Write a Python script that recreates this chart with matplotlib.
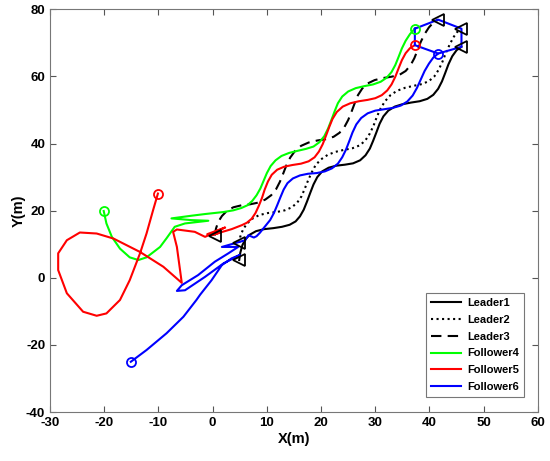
import matplotlib
matplotlib.use("Agg")
import matplotlib.pyplot as plt
from matplotlib.lines import Line2D

plt.rcParams['font.family'] = ['Liberation Sans', 'DejaVu Sans']
plt.rcParams['font.weight'] = 'bold'
plt.rcParams['axes.unicode_minus'] = False

# leader trajectories
leader1_x = [4.9, 5.1, 5.5, 6.1, 6.9, 8.0, 9.5, 11.2, 12.8, 14.2, 15.3, 16.1, 16.8, 17.4, 18.0,
             18.6, 19.3, 20.2, 21.4, 22.8, 24.4, 25.9, 27.2, 28.2, 29.0, 29.6, 30.2, 30.8, 31.5,
             32.4, 33.6, 35.0, 36.6, 38.2, 39.6, 40.7, 41.6, 42.3, 42.9, 43.5, 44.2, 45.0, 45.9]
leader1_y = [5.3, 7.5, 9.8, 11.6, 12.9, 13.9, 14.5, 14.8, 15.2, 15.8, 16.8, 18.3, 20.3, 22.7, 25.3,
             27.8, 30.0, 31.7, 32.8, 33.4, 33.7, 34.1, 35.0, 36.5, 38.5, 40.8, 43.3, 45.9, 48.1,
             49.8, 51.0, 51.7, 52.2, 52.6, 53.3, 54.5, 56.3, 58.5, 61.0, 63.6, 66.0, 67.8, 68.8]

leader2_x = [4.9, 5.1, 5.6, 6.3, 7.3, 8.6, 10.2, 11.8, 13.3, 14.6, 15.6, 16.4, 17.0, 17.6, 18.3,
             19.0, 20.0, 21.2, 22.6, 24.2, 25.8, 27.2, 28.2, 29.0, 29.7, 30.3, 31.0, 31.8, 32.8,
             34.0, 35.5, 37.1, 38.6, 39.9, 40.9, 41.7, 42.4, 43.0, 43.7, 44.4, 45.1, 45.9]
leader2_y = [10.4, 12.3, 14.4, 16.1, 17.6, 18.7, 19.3, 19.6, 20.1, 21.0, 22.4, 24.3, 26.6, 29.0, 31.5,
             33.6, 35.3, 36.6, 37.5, 38.1, 38.6, 39.5, 41.0, 43.0, 45.4, 48.0, 50.5, 52.6, 54.4,
             55.7, 56.6, 57.2, 57.7, 58.6, 60.0, 62.0, 64.4, 66.9, 69.4, 71.6, 73.2, 74.2]

leader3_x = [0.4, 0.6, 1.0, 1.7, 2.6, 3.8, 5.3, 6.9, 8.4, 9.7, 10.8, 11.7, 12.4, 13.0, 13.6,
             14.3, 15.2, 16.3, 17.7, 19.3, 20.9, 22.3, 23.4, 24.3, 25.0, 25.6, 26.2, 26.8, 27.6,
             28.6, 29.9, 31.4, 33.0, 34.5, 35.6, 36.5, 37.2, 37.8, 38.4, 39.1, 39.9, 40.7, 41.6]
leader3_y = [12.6, 14.6, 16.6, 18.4, 19.9, 21.0, 21.6, 21.9, 22.4, 23.3, 24.6, 26.4, 28.6, 31.0, 33.5,
             35.8, 37.8, 39.3, 40.3, 40.9, 41.3, 42.0, 43.2, 44.9, 47.0, 49.4, 52.0, 54.4, 56.4,
             57.9, 58.9, 59.5, 59.9, 60.5, 61.6, 63.3, 65.4, 67.8, 70.3, 72.6, 74.6, 76.0, 76.9]

# follower trajectories
follower4_x = [-20.1, -19.6, -18.6, -17.1, -15.3, -13.7, -12.2, -9.7, -8.5, -7.0, -5.1, -0.8, -4.0,
               -7.6, -3.9, -1.4, 2.0, 3.8, 5.3, 6.4, 7.3, 8.1, 8.8, 9.4, 10.0, 10.7, 11.6, 12.7,
               14.1, 15.6, 17.2, 18.6, 19.7, 20.6, 21.3, 21.9, 22.5, 23.1, 23.9, 25.0, 26.4, 28.0,
               29.6, 31.0, 32.1, 33.0, 33.7, 34.3, 34.9, 35.6, 36.4, 37.3]
follower4_y = [19.9, 16.2, 12.2, 8.7, 6.1, 5.3, 6.1, 9.2, 11.8, 15.2, 16.2, 17.0, 17.2,
               17.7, 18.5, 19.0, 19.6, 20.1, 20.8, 21.6, 22.9, 24.6, 26.6, 28.9, 31.2, 33.3, 35.0, 36.3,
               37.2, 37.8, 38.4, 39.1, 40.4, 42.2, 44.5, 47.0, 49.6, 52.0, 54.0, 55.5, 56.5, 57.1,
               57.6, 58.4, 59.6, 61.3, 63.4, 65.8, 68.3, 70.6, 72.6, 74.2]

follower5_x = [-10.1, -11.0, -12.2, -13.4, -15.3, -17.1, -19.6, -21.4, -23.9, -26.9, -28.5, -28.5,
               -26.9, -24.5, -21.4, -18.3, -13.4, -9.1, -5.7, -6.6, -7.3, -6.6, -3.3, -1.4, 2.3,
               -1.0, 1.5, -0.5, 3.5, 5.4, 6.3, 7.2, 7.9, 8.5, 9.1, 9.6, 10.2, 10.9, 11.9, 13.2,
               14.7, 16.3, 17.7, 18.8, 19.6, 20.3, 20.9, 21.5, 22.1, 22.9, 24.0, 25.4, 27.0, 28.6,
               30.0, 31.2, 32.2, 33.0, 33.7, 34.3, 34.9, 35.6, 36.4, 37.3]
follower5_y = [25.1, 20.1, 13.2, 7.3, -0.7, -6.6, -10.6, -11.3, -10.1, -4.6, 2.3, 7.3,
               11.2, 13.5, 13.2, 11.7, 7.7, 3.3, -1.5, 9.2, 13.7, 14.4, 13.7, 12.2, 15.0,
               13.0, 13.5, 12.6, 14.5, 15.7, 16.4, 17.6, 19.3, 21.4, 23.8, 26.3, 28.7, 30.7, 32.2, 33.1,
               33.6, 34.0, 34.7, 35.9, 37.6, 39.8, 42.3, 44.9, 47.3, 49.4, 51.0, 52.0, 52.6, 53.0,
               53.5, 54.4, 55.8, 57.6, 59.9, 62.4, 64.8, 66.9, 68.4, 69.3]

follower6_x = [-15.1, -12.2, -8.5, -5.4, -3.0, -2.3, -0.2, 1.7, 3.5, 5.0, 2.0, -1.4, -5.1, -6.6,
               -5.7, -2.7, 0.4, 2.9, 4.7, 1.7, 6.0, 6.6, 7.6, 8.1, 8.7, 9.6, 10.6, 11.3, 11.9,
               12.5, 13.1, 13.8, 14.8, 16.1, 17.6, 19.2, 20.7, 22.0, 23.1, 23.9, 24.6, 25.2, 25.8,
               26.5, 27.4, 28.6, 30.0, 31.6, 33.2, 34.7, 35.9, 36.9, 37.7, 38.4, 39.1, 39.9, 40.7, 41.6]
follower6_y = [-25.0, -21.5, -16.5, -11.6, -6.6, -5.0, -0.7, 3.8, 5.8, 6.8, 4.3, 0.3, -3.7, -3.9,
               -2.2, 0.8, 4.8, 7.3, 9.2, 9.2, 11.2, 12.7, 12.0, 12.4, 13.4, 15.2, 17.2, 19.3, 21.6,
               24.0, 26.3, 28.2, 29.6, 30.5, 31.0, 31.2, 31.7, 32.6, 34.0, 35.9, 38.2, 40.7, 43.3,
               45.7, 47.6, 49.0, 49.8, 50.2, 50.6, 51.3, 52.5, 54.3, 56.6, 59.1, 61.6, 63.8, 65.6, 66.8]

labels = ['Leader1', 'Leader2', 'Leader3', 'Follower4', 'Follower5', 'Follower6']

fig = plt.figure(figsize=(5.5, 4.61), dpi=100)
ax = fig.add_axes([0.091, 0.106, 0.887, 0.874])

lw = 1.5
dash = (0, (5, 3))
ax.plot(leader1_x, leader1_y, color='k', ls='-', lw=lw)
ax.plot(leader2_x, leader2_y, color='k', ls=':', lw=lw)
ax.plot(leader3_x, leader3_y, color='k', ls=dash, lw=lw)
ax.plot(follower4_x, follower4_y, color=(0, 1, 0), lw=lw)
ax.plot(follower5_x, follower5_y, color='r', lw=lw)
ax.plot(follower6_x, follower6_y, color='b', lw=lw)

# formation polygon linking the final positions
ends = [(follower4_x[-1], follower4_y[-1]), (leader3_x[-1], leader3_y[-1]),
        (leader2_x[-1], leader2_y[-1]), (leader1_x[-1], leader1_y[-1]),
        (follower6_x[-1], follower6_y[-1]), (follower5_x[-1], follower5_y[-1])]
ends.append(ends[0])
ax.plot([e[0] for e in ends], [e[1] for e in ends], color='b', lw=lw)

# start / end markers
for xs, ys in [(leader1_x, leader1_y), (leader2_x, leader2_y), (leader3_x, leader3_y)]:
    ax.plot([xs[0], xs[-1]], [ys[0], ys[-1]], ls='none', marker='<', ms=8,
            mfc='none', mec='k', mew=1.3)
for xs, ys, c in [(follower4_x, follower4_y, (0, 1, 0)), (follower5_x, follower5_y, 'r'),
                  (follower6_x, follower6_y, 'b')]:
    ax.plot([xs[0], xs[-1]], [ys[0], ys[-1]], ls='none', marker='o', ms=6.5,
            mfc='none', mec=c, mew=1.3)

ax.set_xlim(-30, 60)
ax.set_ylim(-40, 80)
ax.set_xticks(range(-30, 61, 10))
ax.set_yticks(range(-40, 81, 20))
ax.tick_params(direction='in', top=True, right=True, labelsize=9.5, length=4,
               color='#555555', width=0.8)
for lab in ax.get_xticklabels() + ax.get_yticklabels():
    lab.set_fontweight('bold')
for s in ax.spines.values():
    s.set_color('#777777')
    s.set_linewidth(0.8)
ax.set_xlabel('X(m)', fontsize=10.5, fontweight='bold', labelpad=2)
ax.set_ylabel('Y(m)', fontsize=10.5, fontweight='bold', labelpad=0)

handles = [Line2D([], [], color='k', ls='-', lw=lw),
           Line2D([], [], color='k', ls=':', lw=lw),
           Line2D([], [], color='k', ls=dash, lw=lw),
           Line2D([], [], color=(0, 1, 0), lw=lw),
           Line2D([], [], color='r', lw=lw),
           Line2D([], [], color='b', lw=lw)]
leg = ax.legend(handles, labels, loc='lower right', bbox_to_anchor=(0.972, 0.037),
                fontsize=8, fancybox=False, framealpha=1, edgecolor='#777777',
                handlelength=2.7, labelspacing=0.62, borderpad=0.45, handletextpad=0.6,
                borderaxespad=0)
leg.get_frame().set_linewidth(0.8)
for t in leg.get_texts():
    t.set_fontweight('bold')

fig.savefig('out.png', dpi=100)
